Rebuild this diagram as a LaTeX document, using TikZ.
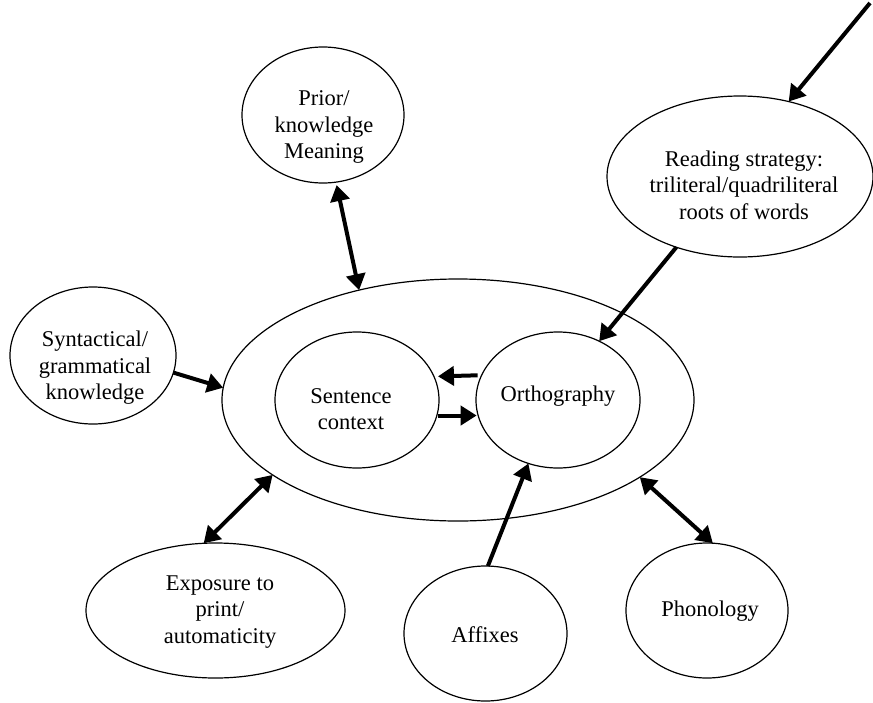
\documentclass[tikz,border=0pt]{standalone}
\usepackage{fontspec}
\setmainfont{Liberation Serif}
\usetikzlibrary{shapes.geometric,arrows.meta}
\begin{document}
\begin{tikzpicture}[x=1pt,y=-1pt,
  bubble/.style={draw,ellipse,line width=1.2pt,inner sep=0pt,outer sep=0pt},
  caption/.style={align=center,inner sep=0pt,font=\fontsize{22.5}{26.5}\selectfont},
  tipshape/.tip={Triangle[length=16pt,width=19pt]},
  link/.style={line width=4pt,-tipshape},
  link2/.style={line width=4pt,tipshape-tipshape}]
\useasboundingbox (0,0) rectangle (873,702);

% outer ellipse and its two inner circles
\node[bubble,minimum width=472pt,minimum height=242pt] (core) at (458,400) {};
\node[bubble,minimum width=164pt,minimum height=136pt] (sent) at (357,400) {};
\node[bubble,minimum width=164pt,minimum height=136pt] (ortho) at (558,400) {};

% surrounding factors
\node[bubble,minimum width=162pt,minimum height=136pt] (prior) at (323,115) {};
\node[bubble,minimum width=266pt,minimum height=161pt] (read) at (740,176.5) {};
\node[bubble,minimum width=166pt,minimum height=137pt] (synt) at (93,355.5) {};
\node[bubble,minimum width=259pt,minimum height=135pt] (expo) at (215.5,610.5) {};
\node[bubble,minimum width=163pt,minimum height=135pt] (affix) at (485.5,633.5) {};
\node[bubble,minimum width=162pt,minimum height=135pt] (phon) at (707,610.5) {};

% labels
\node[caption] (prior-t) at (324,127) {Prior/\\knowledge\\Meaning};
\node[caption] (read-t) at (744,185) {Reading strategy:\\triliteral/quadriliteral\\roots of words};
\node[caption] (synt-t) at (95,368) {Syntactical/\\grammatical\\knowledge};
\node[caption] (sent-t) at (351,409) {Sentence\\context};
\node[caption] (ortho-t) at (558,396) {Orthography};
\node[caption] (expo-t) at (220,612) {Exposure to\\print/\\automaticity};
\node[caption] (affix-t) at (485,635) {Affixes};
\node[caption] (phon-t) at (710,611) {Phonology};

% connectors
\coordinate (corner) at (870,3);
\draw[link] (corner) -- (read.57);
\draw[link] (read.-132) -- (ortho.55.5);
\draw[link2,shorten <=3pt] (prior.-79.5) -- (core.132.5);
\draw[link] (synt.-12.6) -- (core.177);
\draw[link,shorten <=4pt,shorten >=4pt] (ortho.162.8) -- (sent.17.2);
\draw[link,shorten <=1.5pt,shorten >=1.5pt] (sent.-11.9) -- (ortho.191.9);
\draw[link2] (expo.100) -- (core.-158);
\draw[link] (affix.88.4) -- (ortho.-115.8);
\draw[link2] (core.-23.6) -- (phon.85.6);
\end{tikzpicture}
\end{document}
